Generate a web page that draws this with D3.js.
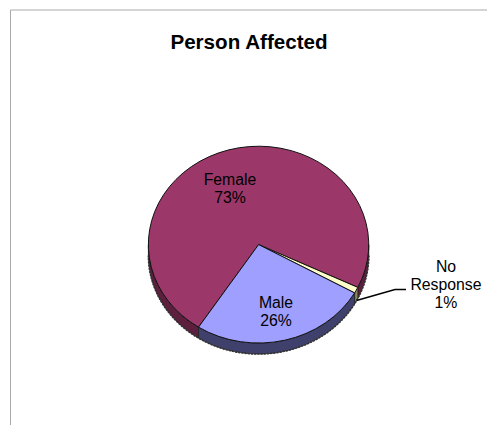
<!DOCTYPE html>
<html>
<head>
<meta charset="utf-8">
<script src="https://cdnjs.cloudflare.com/ajax/libs/d3/7.9.0/d3.min.js"></script>
<style>
  html, body { margin: 0; padding: 0; background: #fff; }
  svg { display: block; }
  text { font-family: "Liberation Sans", Arial, sans-serif; fill: #000; }
</style>
</head>
<body>
<svg id="chart" width="487" height="425"></svg>
<script>
// Slices run clockwise from the first category.
const categories = ["Female", "No Response", "Male"];
const shares = [73, 1, 26];
const topColors = ["#9b3869", "#ffffcc", "#9f9fff"];
const sideColors = ["#5c1f3d", "#8a8a5e", "#40406c"];
const labelLines = [["Female", "73%"], ["No", "Response", "1%"], ["Male", "26%"]];
const chartTitle = "Person Affected";

const cx = 258.6, cy = 244.6, rx = 110.2, ry = 98.4, depth = 11;
const firstSliceAngle = 213 * Math.PI / 180;

const svg = d3.select("#chart");

// Chart-area frame: only the top and left edges fall inside the window.
svg.append("path")
  .attr("d", d3.line()([[10.5, 425], [10.5, 10], [487, 10]]))
  .attr("fill", "none")
  .attr("stroke", "#a9a9a9")
  .attr("stroke-width", 1);

svg.append("text")
  .attr("x", 249)
  .attr("y", 49)
  .attr("text-anchor", "middle")
  .attr("font-size", 20.6)
  .attr("font-weight", "bold")
  .text(chartTitle);

const slices = d3.pie()
  .sort(null)
  .value(d => d)
  .startAngle(firstSliceAngle)
  .endAngle(firstSliceAngle + 2 * Math.PI)(shares);

// Maps a pie angle (0 at the top, clockwise) onto the tilted disc.
const rimPoint = (a, drop = 0) => [cx + rx * Math.sin(a), cy - ry * Math.cos(a) + drop];

// Outline of the visible wall of a slice, or null when it faces away.
function wallPath(s) {
  const turns = [0, 2 * Math.PI];
  let best = null;
  for (const t of turns) {
    const a0 = Math.max(s.startAngle, Math.PI / 2 + t);
    const a1 = Math.min(s.endAngle, 3 * Math.PI / 2 + t);
    if (a1 > a0) {
      const steps = d3.range(0, 61).map(i => a0 + (a1 - a0) * i / 60);
      const upper = steps.map(a => rimPoint(a));
      const lower = steps.slice().reverse().map(a => rimPoint(a, depth));
      best = (best || "") + d3.line()(upper.concat(lower)) + "Z";
    }
  }
  return best;
}

const walls = svg.append("g");
slices.forEach((s, i) => {
  const d = wallPath(s);
  if (d) {
    walls.append("path")
      .attr("d", d)
      .attr("fill", sideColors[i])
      .attr("stroke", "#1a1a1a")
      .attr("stroke-width", 0.7);
  }
});

// Grainy dark edge under the wall.
const lowerRim = d3.range(0, 121).map(i => Math.PI / 2 + Math.PI * i / 120).map(a => rimPoint(a, depth));
svg.append("path")
  .attr("d", d3.line()(lowerRim))
  .attr("fill", "none")
  .attr("stroke", "#333")
  .attr("stroke-width", 1.6)
  .attr("stroke-dasharray", "2 1.2");

// Top faces: a unit-radius arc stretched into the disc's ellipse.
const unitArc = d3.arc().innerRadius(0).outerRadius(1);
svg.append("g")
  .attr("transform", `translate(${cx},${cy}) scale(${rx},${ry})`)
  .selectAll("path")
  .data(slices)
  .join("path")
  .attr("d", unitArc)
  .attr("fill", (d, i) => topColors[i])
  .attr("stroke", "#111")
  .attr("stroke-width", 1)
  .attr("vector-effect", "non-scaling-stroke");

// Leader line for the smallest slice.
svg.append("path")
  .attr("d", d3.line()([[356.5, 300.5], [395, 289.5], [406, 289.5]]))
  .attr("fill", "none")
  .attr("stroke", "#000")
  .attr("stroke-width", 1.5);

const labelAnchors = [[230, 185], [446, 272], [276, 308]];
labelLines.forEach((lines, i) => {
  const t = svg.append("text")
    .attr("text-anchor", "middle")
    .attr("font-size", 15.8);
  lines.forEach((line, j) => {
    t.append("tspan")
      .attr("x", labelAnchors[i][0])
      .attr("y", labelAnchors[i][1] + j * 18)
      .text(line);
  });
});
</script>
</body>
</html>
